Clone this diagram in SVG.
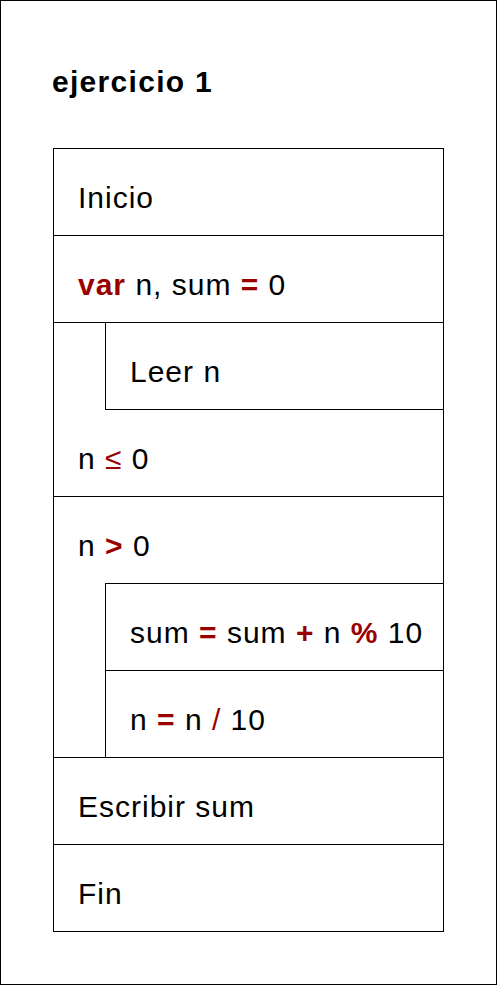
<svg xmlns="http://www.w3.org/2000/svg" width="497" height="985" viewBox="0 0 497 985">
<style>
.box{fill:#ffffff;stroke:#000000;stroke-width:1}
.t{font-family:"Liberation Sans",Arial,sans-serif;font-size:30px;letter-spacing:1px;fill:#000000}
.title{font-family:"Liberation Sans",Arial,sans-serif;font-size:30px;letter-spacing:1.3px;font-weight:bold;fill:#000000}
.op{fill:#990000;font-weight:bold}
.opn{fill:#990000}
</style>
<rect x="0.5" y="0.5" width="496" height="984" fill="#ffffff" stroke="#000000" stroke-width="1"/>
<g id="title"><text class="title" x="52" y="92">ejercicio 1</text></g>
<g id="inicio">
<rect class="box" x="53.5" y="148.5" width="390" height="87"/>
<text class="t" x="78" y="208">Inicio</text>
</g>
<g id="var">
<rect class="box" x="53.5" y="235.5" width="390" height="87"/>
<text class="t" x="78" y="295"><tspan class="op">var</tspan> n, sum <tspan class="op">=</tspan> 0</text>
</g>
<g id="repeat">
<rect class="box" x="53.5" y="322.5" width="390" height="174"/>
<text class="t" x="78" y="469">n <tspan class="opn">≤</tspan> 0</text>
</g>
<g id="leer">
<rect class="box" x="105.5" y="322.5" width="338" height="87"/>
<text class="t" x="130" y="382">Leer n</text>
</g>
<g id="while">
<rect class="box" x="53.5" y="496.5" width="390" height="261"/>
<text class="t" x="78" y="556">n <tspan class="op">&gt;</tspan> 0</text>
</g>
<g id="sum">
<rect class="box" x="105.5" y="583.5" width="338" height="87"/>
<text class="t" x="130" y="643">sum <tspan class="op">=</tspan> sum <tspan class="op">+</tspan> n <tspan class="op">%</tspan> 10</text>
</g>
<g id="div">
<rect class="box" x="105.5" y="670.5" width="338" height="87"/>
<text class="t" x="130" y="730">n <tspan class="op">=</tspan> n <tspan class="opn">/</tspan> 10</text>
</g>
<g id="escribir">
<rect class="box" x="53.5" y="757.5" width="390" height="87"/>
<text class="t" x="78" y="817">Escribir sum</text>
</g>
<g id="fin">
<rect class="box" x="53.5" y="844.5" width="390" height="87"/>
<text class="t" x="78" y="904">Fin</text>
</g>
<g id="connectors"></g>
</svg>
